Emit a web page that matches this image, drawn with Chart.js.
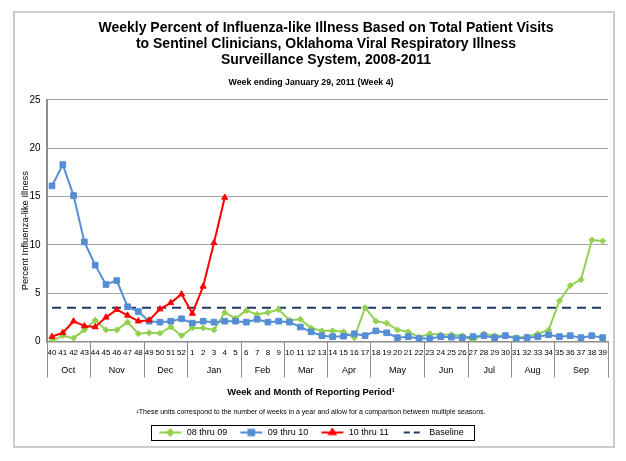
<!DOCTYPE html>
<html>
<head>
<meta charset="utf-8">
<script src="https://cdn.jsdelivr.net/npm/chart.js@4/dist/chart.umd.min.js"></script>
<style>
  html, body { margin: 0; padding: 0; background: #fff; }
  canvas { display: block; }
</style>
</head>
<body>
<canvas id="ili-chart" width="626" height="461"></canvas>
<script>
// week numbers of the surveillance season (Oct -> Sep)
const weeks = ['40','41','42','43','44','45','46','47','48','49','50','51','52',
  '1','2','3','4','5','6','7','8','9','10','11','12','13',
  '14','15','16','17','18','19','20','21','22','23','24','25','26',
  '27','28','29','30','31','32','33','34','35','36','37','38','39'];

// months and how many weeks fall in each
const monthNames = ['Oct','Nov','Dec','Jan','Feb','Mar','Apr','May','Jun','Jul','Aug','Sep'];
const monthWeeks = [4, 5, 4, 5, 4, 4, 4, 5, 4, 4, 4, 5];

// percent ILI per season
const season0809 = [0.05,0.6,0.35,1.2,2.2,1.2,1.2,2.0,0.8,0.9,0.85,1.5,0.6,
  1.4,1.4,1.2,3.0,2.4,3.2,2.8,3.0,3.3,2.2,2.3,1.4,1.1,
  1.1,1.0,0.4,3.5,2.1,1.9,1.2,1.0,0.45,0.8,0.7,0.7,0.6,
  0.1,0.8,0.6,0.6,0.4,0.5,0.8,1.2,4.2,5.8,6.4,10.5,10.4];
const season0910 = [16.1,18.3,15.1,10.3,7.9,5.9,6.3,3.6,3.1,2.1,2.0,2.1,2.35,
  1.9,2.1,2.0,2.1,2.1,2.0,2.3,2.0,2.1,2.0,1.5,1.0,0.6,
  0.5,0.55,0.8,0.6,1.1,0.9,0.4,0.5,0.3,0.3,0.5,0.45,0.4,
  0.5,0.6,0.4,0.6,0.3,0.4,0.5,0.7,0.5,0.6,0.4,0.6,0.4];
const season1011 = [0.5,0.9,2.1,1.6,1.5,2.5,3.3,2.7,2.1,2.2,3.35,4.0,4.9,
  2.9,5.7,10.2,14.9];
const baselineValue = 3.5;

// y ticks
const yMin = 0;
const yMax = 25;
const yStep = 5;

const font = 'Liberation Sans, Arial, sans-serif';
const green = '#92D050';
const blue = '#558ED5';
const red = '#FF0000';
const navy = '#1F3864';

// small canvas used as legend symbol (line + marker)
function legendIcon (color, pointStyle, radius, dashed) {
    let c = document.createElement('canvas');
    c.width = 24;
    c.height = 10;
    let g = c.getContext('2d');
    g.strokeStyle = color;
    g.fillStyle = color;
    g.lineWidth = 2;
    if (dashed) g.setLineDash([6, 4]);
    g.beginPath();
    g.moveTo(dashed ? 3 : 1, 5);
    g.lineTo(23, 5);
    g.stroke();
    g.setLineDash([]);
    if (pointStyle) {
        Chart.helpers.drawPoint(g, {pointStyle: pointStyle, radius: radius, rotation: 0, borderWidth: 1}, 12, 5);
    }
    return c;
}

// frame round the whole chart, title nudged to the right like the original
const framePlugin = {
    id: 'frame',
    afterLayout (chart) {
        chart.titleBlock.left += 30;
    },
    beforeDraw (chart) {
        let ctx = chart.ctx;
        ctx.save();
        ctx.fillStyle = '#fff';
        ctx.fillRect(0, 0, chart.width, chart.height);
        ctx.strokeStyle = '#cccccc';
        ctx.lineWidth = 2;
        ctx.strokeRect(14, 12, 600, 435);
        ctx.restore();
    }
};

// month row under the week labels, axis titles, footnote and legend border
const monthRowPlugin = {
    id: 'monthRow',
    afterDraw (chart) {
        let ctx = chart.ctx;
        let x = chart.scales.x;
        let area = chart.chartArea;
        let half = (x.getPixelForValue(1) - x.getPixelForValue(0)) / 2;
        let top = area.bottom;
        let bottom = top + 36;

        ctx.save();
        ctx.strokeStyle = '#8c8c8c';
        ctx.lineWidth = 1;
        ctx.fillStyle = '#000';
        ctx.font = '9px ' + font;
        ctx.textAlign = 'center';
        ctx.textBaseline = 'middle';

        let start = 0;
        let x0 = x.getPixelForValue(0) - half;
        ctx.beginPath();
        ctx.moveTo(Math.round(x0) + 0.5, top);
        ctx.lineTo(Math.round(x0) + 0.5, bottom);
        ctx.stroke();
        monthNames.forEach((name, i) => {
            let end = start + monthWeeks[i];
            let left = x.getPixelForValue(start) - half;
            let right = x.getPixelForValue(end - 1) + half;
            ctx.beginPath();
            ctx.moveTo(Math.round(right) + 0.5, top);
            ctx.lineTo(Math.round(right) + 0.5, bottom);
            ctx.stroke();
            ctx.fillText(name, (left + right) / 2, top + 29);
            start = end;
        });

        // x axis title and footnote, centred on the frame
        let mid = 311;
        ctx.font = 'bold 9.4px ' + font;
        ctx.fillText('Week and Month of Reporting Period\u00B9', mid, top + 51);
        ctx.font = '7px ' + font;
        ctx.fillText('\u00B9These units correspond to the number of weeks in a year and allow for a comparison between multiple seasons.',
            mid, top + 71);

        // y axis title
        ctx.save();
        ctx.translate(25, (area.top + area.bottom) / 2 + 10);
        ctx.rotate(-Math.PI / 2);
        ctx.font = '9.4px ' + font;
        ctx.fillText('Percent Influenza-like Illness', 0, 0);
        ctx.restore();

        // legend border
        let boxes = chart.legend.legendHitBoxes;
        if (boxes && boxes.length) {
            let l = Math.min(...boxes.map(b => b.left)) - 7;
            let r = Math.max(...boxes.map(b => b.left + b.width)) + 11;
            let t = Math.min(...boxes.map(b => b.top)) - 3;
            let b2 = Math.max(...boxes.map(b => b.top + b.height)) + 3;
            ctx.strokeStyle = '#000';
            ctx.lineWidth = 1;
            ctx.strokeRect(Math.round(l) + 0.5, Math.round(t) + 0.5, Math.round(r - l), Math.round(b2 - t));
        }
        ctx.restore();
    }
};

let chartIli = document.getElementById('ili-chart').getContext('2d');

let iliChart = new Chart(chartIli, {
    type: 'line',
    data: {
        labels: weeks,
        datasets: [{
            label: '08 thru 09',
            data: season0809,
            borderColor: green,
            backgroundColor: green,
            borderWidth: 2,
            pointStyle: 'rectRot',
            pointRadius: 3,
            pointBorderWidth: 1,
            order: 3
        }, {
            label: '09 thru 10',
            data: season0910,
            borderColor: blue,
            backgroundColor: blue,
            borderWidth: 2,
            pointStyle: 'rect',
            pointRadius: 4,
            pointBorderWidth: 1,
            order: 2
        }, {
            label: '10 thru 11',
            data: season1011,
            borderColor: red,
            backgroundColor: red,
            borderWidth: 2,
            pointStyle: 'triangle',
            pointRadius: 3.5,
            pointBorderWidth: 1,
            order: 1
        }, {
            label: 'Baseline',
            data: [{x: weeks[0], y: baselineValue}, {x: weeks[weeks.length - 1], y: baselineValue}],
            borderColor: navy,
            backgroundColor: navy,
            borderWidth: 2,
            borderDash: [9, 6],
            pointRadius: 0,
            order: 4
        }]
    },
    options: {
        responsive: false,
        animation: false,
        layout: { padding: { top: 12, left: 14, right: 18, bottom: 14 } },
        plugins: {
            title: {
                display: true,
                text: ['Weekly Percent of Influenza-like Illness Based on Total Patient Visits',
                    'to Sentinel Clinicians, Oklahoma Viral Respiratory Illness',
                    'Surveillance System, 2008-2011'],
                color: '#000',
                font: { family: font, size: 14, weight: 'bold', lineHeight: 1.15 },
                padding: { top: 8, bottom: 6 }
            },
            subtitle: {
                display: true,
                text: 'Week ending January 29, 2011 (Week 4)',
                color: '#000',
                font: { family: font, size: 8.8, weight: 'bold', lineHeight: 1.2 },
                padding: { top: 3, bottom: 12 }
            },
            legend: {
                position: 'bottom',
                labels: {
                    color: '#000',
                    font: { family: font, size: 9 },
                    usePointStyle: true,
                    pointStyleWidth: 24,
                    padding: 12,
                    sort: (a, b) => a.datasetIndex - b.datasetIndex,
                    generateLabels (chart) {
                        let icons = [
                            legendIcon(green, 'rectRot', 3),
                            legendIcon(blue, 'rect', 4),
                            legendIcon(red, 'triangle', 3.5),
                            legendIcon(navy, null, 0, true)
                        ];
                        return chart.data.datasets.map((ds, i) => ({
                            text: ds.label,
                            pointStyle: icons[i],
                            datasetIndex: i,
                            fontColor: '#000',
                            lineWidth: 0,
                            hidden: false
                        }));
                    }
                }
            },
            tooltip: { enabled: false }
        },
        scales: {
            x: {
                offset: true,
                afterFit (scale) { scale.height = 74.5; },
                grid: { display: false, drawTicks: false },
                border: { color: '#8c8c8c', width: 1.5 },
                ticks: {
                    color: '#000',
                    font: { family: font, size: 8 },
                    autoSkip: false,
                    maxRotation: 0,
                    padding: 6
                }
            },
            y: {
                min: yMin,
                max: yMax,
                afterFit (scale) { scale.width = 32.6; },
                grid: { color: '#a6a6a6', drawTicks: false },
                border: { color: '#8c8c8c', width: 2 },
                ticks: {
                    stepSize: yStep,
                    color: '#000',
                    font: { family: font, size: 10 },
                    padding: 6
                }
            }
        }
    },
    plugins: [framePlugin, monthRowPlugin]
});
</script>
</body>
</html>
